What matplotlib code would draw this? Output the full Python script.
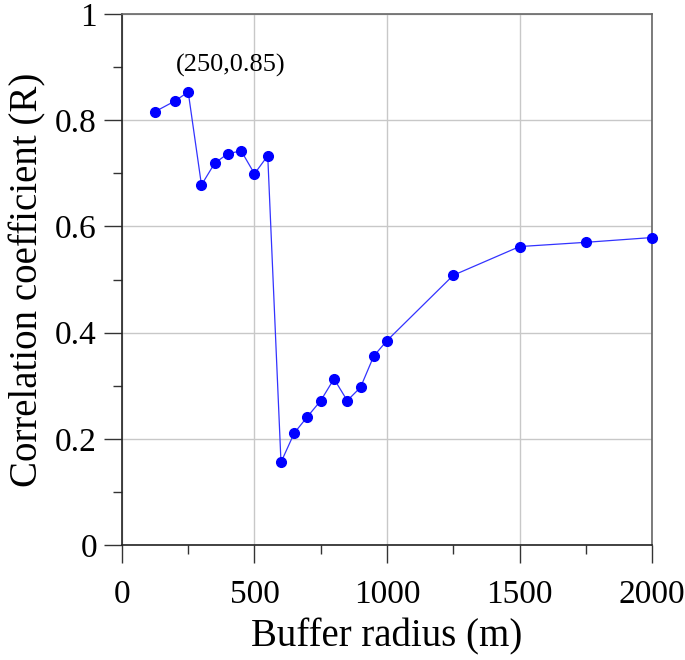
import matplotlib
matplotlib.use("Agg")
import matplotlib.pyplot as plt
from matplotlib.ticker import MultipleLocator, FuncFormatter

radius = [125, 200, 250, 300, 350, 400, 450, 500, 550, 600, 650, 700, 750, 800,
          850, 900, 950, 1000, 1250, 1500, 1750, 2000]
corr = [0.816, 0.836, 0.853, 0.678, 0.719, 0.737, 0.742, 0.699, 0.733, 0.156,
        0.211, 0.242, 0.272, 0.313, 0.272, 0.297, 0.356, 0.385, 0.508, 0.562,
        0.570, 0.579]
x_ticks = [0, 500, 1000, 1500, 2000]
y_ticks = [0, 0.2, 0.4, 0.6, 0.8, 1.0]
annot_text = "(250,0.85)"

plt.rcParams['font.family'] = ['Liberation Serif', 'DejaVu Serif']

fig = plt.figure(figsize=(6.85, 6.6), dpi=100)
ax = fig.add_axes([0.178, 0.174, 0.774, 0.805])

ax.plot(radius, corr, color='#3333ff', lw=0.9, zorder=3)
ax.plot(radius, corr, 'o', color='#0000ff', ms=7, zorder=4, clip_on=False)

ax.set_xlim(0, 2000)
ax.set_ylim(0, 1)
ax.set_xticks(x_ticks)
ax.set_yticks(y_ticks)
ax.xaxis.set_minor_locator(MultipleLocator(250))
ax.yaxis.set_minor_locator(MultipleLocator(0.1))
ax.yaxis.set_major_formatter(FuncFormatter(lambda v, p: f"{v:g}"))
ax.tick_params(axis='both', which='major', direction='out', length=13, width=1,
               labelsize=24, color='#333333')
ax.tick_params(axis='x', which='major', pad=12)
ax.tick_params(axis='y', which='major', pad=5)
ax.tick_params(axis='both', which='minor', direction='out', length=6.5, width=1,
               color='#333333')
ax.tick_params(top=False, right=False, which='both')

ax.grid(True, which='major', color='#c8c8c8', lw=1.0)
ax.set_axisbelow(True)

for s in ['left', 'bottom']:
    ax.spines[s].set_color('#222222')
    ax.spines[s].set_linewidth(1.2)
for s in ['top', 'right']:
    ax.spines[s].set_color('#666666')
    ax.spines[s].set_linewidth(1.2)

ax.set_xlabel("Buffer radius (m)", fontsize=28, labelpad=6)
ax.set_ylabel("Correlation coefficient (R)", fontsize=28, labelpad=6)

ax.text(203, 0.902, annot_text, ha='left', va='center', fontsize=19)

fig.savefig("out.png", dpi=100)
